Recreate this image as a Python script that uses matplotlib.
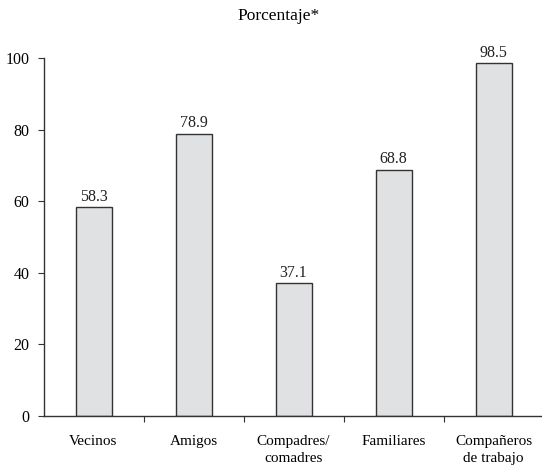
import numpy as np
import matplotlib.pyplot as plt

categorias = ['Vecinos', 'Amigos', 'Compadres/\ncomadres', 'Familiares', 'Compañeros\nde trabajo']
porcentajes = [58.3, 78.9, 37.1, 68.8, 98.5]
yticks = [0, 20, 40, 60, 80, 100]

plt.rcParams['font.family'] = ['Liberation Serif', 'DejaVu Serif']

fig = plt.figure(figsize=(5.42, 4.69), dpi=100)
ax = fig.add_axes([43.5 / 542, 53 / 469, 500 / 542, 358 / 469])

x = np.arange(len(categorias))
bars = ax.bar(x, porcentajes, width=0.36, color='#e0e1e3', edgecolor='#333333', linewidth=1.0)

for b, v in zip(bars, porcentajes):
    ax.text(b.get_x() + b.get_width() / 2, v + 0.7, f'{v:.1f}',
            ha='center', va='bottom', fontsize=11.5, color='#222222')

ax.set_xlim(-0.5, len(categorias) - 0.5)
ax.set_ylim(0, 100)
ax.set_yticks(yticks)
ax.set_xticks(x[:-1] + 0.5)
ax.set_xticklabels([])
ax.set_xticks(x, minor=True)
ax.set_xticklabels(categorias, minor=True, fontsize=11, linespacing=1.4)
ax.tick_params(axis='x', which='minor', length=0, pad=14)
ax.tick_params(axis='x', which='major', length=4, direction='out', color='#333333')
ax.tick_params(axis='y', length=4, direction='out', color='#333333', labelsize=11.5, pad=6)

for s in ['top', 'right']:
    ax.spines[s].set_visible(False)
for s in ['left', 'bottom']:
    ax.spines[s].set_color('#333333')
    ax.spines[s].set_linewidth(1.0)

fig.text(279 / 542, 1 - 16 / 469, 'Porcentaje*', ha='center', va='center', fontsize=12.5)

fig.savefig('out.png', dpi=100)
